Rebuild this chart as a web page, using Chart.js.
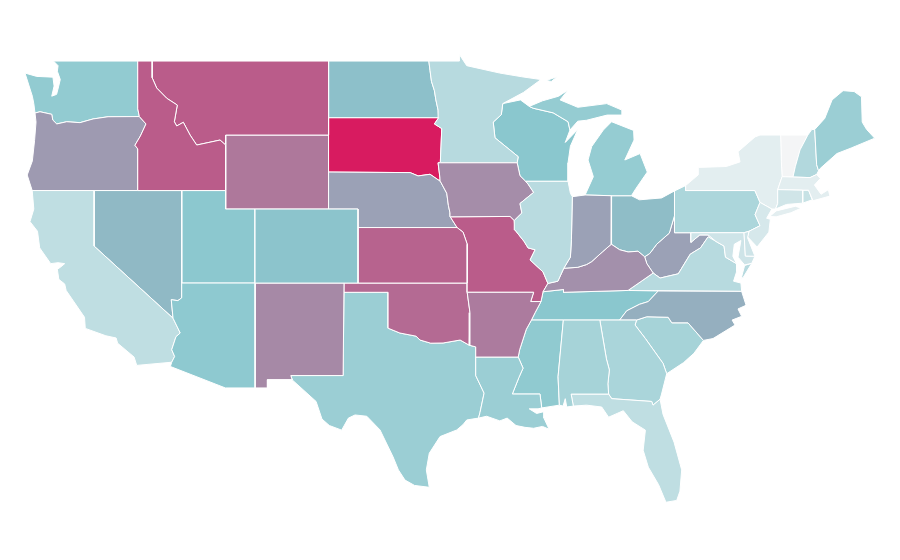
<!DOCTYPE html>
<html>
<head>
<meta charset="utf-8">
<title>US states</title>
<script src="https://cdn.jsdelivr.net/npm/chart.js@4"></script>
<style>
  html, body { margin: 0; background: #fff; }
  canvas { display: block; }
</style>
</head>
<body>
<canvas id="map" width="900" height="560"></canvas>
<script>
const stateNames = ['Alabama','Arizona','Arkansas','California','Colorado','Connecticut','Delaware','Florida','Georgia','Idaho','Illinois','Indiana','Iowa','Kansas','Kentucky','Louisiana','Maine','Maryland','Massachusetts','Michigan','Minnesota','Mississippi','Missouri','Montana','Nebraska','Nevada','New Hampshire','New Jersey','New Mexico','New York','North Carolina','North Dakota','Ohio','Oklahoma','Oregon','Pennsylvania','Rhode Island','South Carolina','South Dakota','Tennessee','Texas','Utah','Vermont','Virginia','Washington','West Virginia','Wisconsin','Wyoming'];
const stateValues = [37,48,72,25,51,17,18,25,35,81,28,61,67,79,66,42,42,18,8,45,29,47,81,81,61,54,31,14,68,8,57,52,53,77,63,34,21,37,100,50,42,49,0,29,46,61,50,73];

// shared borders, [lon, lat]
const rev = a => [...a].reverse();
const columbia = [[-116.92,46],[-119.05,45.99],[-120.07,45.87],[-120.96,45.67],[-121.86,45.72],[-122.54,45.6],[-122.81,45.81],[-122.88,46.12],[-123.68,46.26],[-124.02,46.19]];
const snake = [[-116.92,46],[-116.47,45.6],[-116.85,44.95],[-117.22,44.45],[-117.03,44.25]];
const idMt = [[-116.05,49],[-116.05,48.1],[-115.74,47.54],[-115.06,46.99],[-114.34,46.62],[-114.54,45.72],[-114.38,45.49],[-113.93,45.69],[-113.47,45],[-113.02,44.46],[-111.43,44.73],[-111.05,44.46]];
const nvAz = [[-114.04,36.2],[-114.3,36.05],[-114.75,36.1],[-114.63,35.1]];
const caAz = [[-114.63,35.1],[-114.14,34.3],[-114.43,34.1],[-114.72,33.4],[-114.52,33.03],[-114.72,32.72]];
const redNorth = [[-97.23,49],[-97.15,48.5],[-97.05,47.9],[-96.85,47.4],[-96.75,46.9],[-96.6,46.35],[-96.56,45.94]];
const mnSd = [[-96.56,45.94],[-96.85,45.6],[-96.35,45.35],[-96.45,43.5]];
const sdIa = [[-96.45,43.5],[-96.6,43.5],[-96.47,42.66],[-96.45,42.5]];
const missouri = [[-96.45,42.5],[-96.01,41.85],[-95.9,41.2],[-95.79,40.79],[-95.77,40.58],[-95.31,40]];
const kickapoo = [[-95.31,40],[-94.9,39.75],[-94.62,39.1]];
const redSouth = [[-100,34.56],[-99.2,34.3],[-98.1,34.13],[-97.83,33.92],[-97.1,33.75],[-96.26,33.76],[-95.1,33.92],[-94.48,33.64],[-94.04,33.55]];
const sabine = [[-94.04,32],[-93.47,31.05],[-93.75,30],[-93.85,29.7]];
const mnWi = [[-92.2,46.7],[-92.3,46.1],[-92.85,45.7],[-92.73,44.85],[-91.15,43.83],[-91.22,43.5]];
const wiIa = [[-91.22,43.5],[-91.03,42.8],[-90.65,42.5]];
const iaIl = [[-90.65,42.5],[-90.48,42.35],[-90.1,41.9],[-91.03,41.3],[-90.9,40.79],[-91.42,40.38]];
const moIl = [[-91.42,40.38],[-91.37,39.87],[-90.75,39.25],[-90.48,38.9],[-90,38.8],[-90.34,38.25],[-89.46,37.6],[-89.13,36.98]];
const moKy = [[-89.13,36.98],[-89.46,36.53]];
const moTn = [[-89.46,36.53],[-89.6,36]];
const arTn = [[-89.6,36],[-90,35.4],[-90.25,35]];
const arMs = [[-90.25,35],[-90.6,34.5],[-91.05,33.4],[-91.15,33]];
const laMs = [[-91.15,33],[-90.82,32.4],[-91.1,31.9],[-91.55,31],[-89.67,31],[-89.55,30.25]];
const ohioIl = [[-89.13,36.98],[-88.45,37.1],[-88.05,37.8]];
const ohioIn = [[-88.05,37.8],[-87.1,37.85],[-86.5,38],[-86.15,38.16],[-85.4,38.7],[-84.82,39.1]];
const ohioOh = [[-84.82,39.1],[-84.25,38.8],[-83.67,38.68],[-83,38.72],[-82.55,38.42]];
const ohioWv = [[-82.55,38.42],[-82.2,38.6],[-81.73,39.1],[-80.87,39.7],[-80.52,40.64]];
const kyWv = [[-82.55,38.42],[-82.4,38.05],[-81.97,37.54]];
const tnNc = [[-84.25,35],[-83.77,35.5],[-82.9,35.85],[-82.3,36],[-81.63,36.57]];
const gaSc = [[-83.1,35],[-83.2,34.73],[-82.5,34],[-81.3,32.66],[-81.05,32.1]];
const ncSc = [[-83.1,35],[-82.4,35.18],[-80.95,35.15],[-80.7,34.85],[-79.6,34.85],[-78.55,33.9]];
const vaWv = [[-81.97,37.54],[-81.5,37.27],[-80.26,37.5],[-79.45,38.56],[-78.75,38.9],[-78.23,39.5],[-77.7,39.25]];
const mdVa = [[-77.7,39.25],[-77.15,39],[-77.05,38.4],[-76.3,38.05]];
const wvMd = [[-79.4,39.72],[-79.4,39.2],[-78.8,39.6],[-78.23,39.6],[-77.7,39.25]];
const wiMi = [[-90.4,46.55],[-90.13,46.45],[-88.77,46.2],[-87.76,45.72],[-87.63,45.27]];

const stateShapes = {
  'Washington': [[[-122.76,49],[-117.03,49],[-117.03,46.42],...columbia,[-124.1,46.7],[-124.2,47.1],[-124.7,48.35],[-123.9,48.17],[-122.8,48.13],[-122.72,47.65],[-122.88,47.1],[-122.55,47.2],[-122.42,47.6],[-122.3,48],[-122.5,48.45],[-122.45,48.75]]],
  'Oregon': [[...rev(columbia),...snake,[-117.03,42],[-124.21,42],[-124.55,42.84],[-124.2,43.6],[-124.05,44.7],[-123.95,45.7]]],
  'California': [[[-124.21,42],[-120,42],[-120,39],...caAz,[-117.1,32.55],[-117.28,33],[-118.4,33.75],[-118.5,34.03],[-119.2,34.15],[-120.6,34.55],[-120.65,35.15],[-121.9,36.6],[-122,36.95],[-122.4,37.2],[-122.5,37.75],[-122.3,37.85],[-122,38.05],[-122.45,38.1],[-122.95,38.05],[-123.7,38.9],[-123.85,39.8],[-124.36,40.32],[-124.1,41]]],
  'Nevada': [[[-120,42],[-114.04,42],...nvAz,[-120,39]]],
  'Idaho': [[[-117.03,49],...idMt,[-111.05,42],[-117.03,42],...rev(snake),[-117.03,46.42]]],
  'Montana': [[[-116.05,49],[-104.05,49],[-104.05,45],[-111.05,45],...rev(idMt)]],
  'Wyoming': [[[-111.05,45],[-104.05,45],[-104.05,41],[-111.05,41]]],
  'Utah': [[[-114.04,42],[-111.05,42],[-111.05,41],[-109.05,41],[-109.05,37],[-114.04,37]]],
  'Arizona': [[[-114.04,37],[-109.05,37],[-109.05,31.33],[-111.07,31.33],[-114.81,32.49],...rev(caAz),...rev(nvAz)]],
  'Colorado': [[[-109.05,41],[-102.05,41],[-102.05,37],[-109.05,37]]],
  'New Mexico': [[[-109.05,37],[-103,37],[-103.06,32],[-106.62,32],[-106.53,31.78],[-108.21,31.78],[-108.21,31.33],[-109.05,31.33]]],
  'North Dakota': [[[-104.05,49],...redNorth,[-104.05,45.94]]],
  'South Dakota': [[[-104.05,45.94],...mnSd,...sdIa,[-97.15,42.88],[-97.96,42.79],[-98.5,42.97],[-104.05,43]]],
  'Nebraska': [[[-104.05,43],[-98.5,42.97],[-97.96,42.79],[-97.15,42.88],...missouri,[-102.05,40],[-102.05,41],[-104.05,41]]],
  'Kansas': [[[-102.05,40],...kickapoo,[-94.62,37],[-102.05,37]]],
  'Oklahoma': [[[-103,37],[-94.62,37],[-94.62,36.5],[-94.43,35.4],...rev(redSouth).slice(1),[-100,36.5],[-103,36.5]]],
  'Texas': [[[-103,36.5],[-100,36.5],...redSouth,[-94.04,32],...sabine.slice(1),[-94.65,29.6],[-94.9,29.35],[-95.33,29.06],[-96.47,28.7],[-97.2,27.8],[-97.4,26.9],[-97.2,25.96],[-98.2,26.06],[-98.85,26.35],[-99.3,26.9],[-99.66,27.6],[-100.55,29.06],[-101.45,29.8],[-102.25,29.87],[-102.7,29.7],[-103.16,29.05],[-104,29.3],[-104.5,29.65],[-104.9,30.6],[-106.5,31.75],[-106.62,32],[-103.06,32]]],
  'Minnesota': [[[-97.23,49],[-95.15,49],[-95.15,49.35],[-94.65,48.75],[-92.4,48.35],[-90.9,48.15],[-89.6,48],[-90.8,47.3],...mnWi,[-96.45,43.5],...rev(mnSd),...rev(redNorth).slice(1,-1)]],
  'Iowa': [[[-96.45,43.5],[-91.22,43.5],[-91.03,42.8],...iaIl,[-91.7,40.6],[-95.77,40.58],[-95.79,40.79],[-95.9,41.2],[-96.01,41.85],...rev(sdIa).slice(0,-1)]],
  'Missouri': [[[-95.77,40.58],[-91.7,40.6],...moIl,...moKy,...moTn,[-90.3,36],[-90.1,36.5],[-94.62,36.5],[-94.62,39.1],[-94.9,39.75],[-95.31,40]]],
  'Arkansas': [[[-94.62,36.5],[-90.1,36.5],[-90.3,36],...arTn,...arMs,[-94.04,33],[-94.04,33.55],[-94.48,33.64],[-94.43,35.4]]],
  'Louisiana': [[[-94.04,33],...laMs,[-89.8,30.2],[-90.4,30.2],[-89.9,29.95],[-89.4,30.05],[-89.4,29.7],[-89.05,29.1],[-89.5,29.25],[-90.1,29.15],[-90.69,29.2],[-91.3,29.3],[-91.9,29.7],[-92.4,29.55],[-93.3,29.8],...rev(sabine)]],
  'Wisconsin': [[[-92.2,46.7],[-91,46.9],...wiMi,[-87.95,44.6],[-87.1,45.3],[-87.6,44.4],[-87.76,43.5],[-87.76,42.5],...rev(wiIa),...rev(mnWi).slice(1,-1)]],
  'Illinois': [[[-90.65,42.5],[-87.76,42.5],[-87.6,41.85],[-87.47,41.67],[-87.53,39.35],[-87.6,38.4],...rev(ohioIl),...rev(moIl),...rev(iaIl).slice(1,-1)]],
  'Indiana': [[[-87.47,41.67],[-86.6,41.76],[-84.8,41.72],...rev(ohioIn),[-87.6,38.4],[-87.53,39.35]]],
  'Michigan': [
    [[-86.6,41.76],[-84.8,41.72],[-83.45,41.72],[-83.15,42.1],[-82.37,43],[-82.86,44],[-83.9,43.65],[-83.27,44.73],[-83.3,45.25],[-84.8,45.72],[-85.36,45.27],[-86.15,44.38],[-86.4,43.65],[-86.04,42.75]],
    [...wiMi,[-87.1,45.75],[-86.5,45.8],[-85.1,46.08],[-84.1,46.08],[-84.1,46.35],[-85.13,46.7],[-87.1,46.5],[-88.3,46.9],[-87.76,47.44],[-88.4,47.1],[-89.5,46.85]],
    [[-89.25,47.95],[-88.5,48.15],[-88.9,47.9]]
  ],
  'Ohio': [[[-84.8,41.72],[-83.45,41.72],[-82.9,41.5],[-81.4,41.6],[-80.52,41.98],...rev(ohioWv),...rev(ohioOh)]],
  'Kentucky': [[...moKy,[-88.07,36.65],[-88.07,36.5],[-83.68,36.6],[-81.97,37.54],...rev(kyWv),...rev(ohioOh),...rev(ohioIn),...rev(ohioIl)]],
  'Tennessee': [[[-90.25,35],[-84.25,35],...tnNc,[-83.68,36.6],[-88.07,36.5],[-88.07,36.65],[-89.46,36.53],...moTn,...arTn.slice(1)]],
  'Mississippi': [[[-90.25,35],[-88.08,35],[-88.44,31.93],[-88.35,30.4],[-89.55,30.25],...rev(laMs).slice(1),...rev(arMs).slice(1)]],
  'Alabama': [[[-88.08,35],[-85.6,35],[-85.15,32.9],[-84.95,32.3],[-85.05,31.55],[-85,31],[-87.55,31],[-87.4,30.35],[-87.85,30.3],[-87.95,30.75],[-88.1,30.35],[-88.35,30.4],[-88.44,31.93]]],
  'Georgia': [[[-85.6,35],[-83.1,35],...gaSc.slice(1),[-81.4,31],[-81.5,30.72],[-81.98,30.4],[-82.07,30.6],[-84.79,30.75],[-85,31],[-85.05,31.55],[-84.95,32.3],[-85.15,32.9]]],
  'South Carolina': [[...ncSc,[-79.2,33.2],[-79.9,32.7],[-81.05,32.1],...rev(gaSc).slice(1,-1)]],
  'North Carolina': [[...tnNc,[-75.95,36.55],[-75.65,35.8],[-76.2,35.6],[-75.95,35.2],[-76.6,35],[-76.4,34.73],[-77.9,34],...rev(ncSc)]],
  'Florida': [[[-87.55,31],[-85,31],[-84.79,30.75],[-82.07,30.6],[-81.98,30.4],[-81.5,30.72],[-81.3,29.9],[-80.55,28.4],[-80.03,26.9],[-80.15,25.75],[-80.37,25.25],[-81.1,25.15],[-81.6,26.1],[-82.3,27.05],[-82.65,27.96],[-82.5,29.05],[-83.4,29.5],[-84,30.1],[-85,29.75],[-85.47,30.3],[-86.5,30.4],[-87.4,30.35]]],
  'Virginia': [
    [[-83.68,36.6],[-75.95,36.55],[-76,37],[-76.5,37.1],[-76.3,37.6],...rev(mdVa),...rev(vaWv)],
    [[-75.98,37.25],[-75.75,37.95],[-75.26,38.07],[-75.85,37.3]]
  ],
  'West Virginia': [[...ohioWv,[-80.52,39.72],...wvMd,...rev(vaWv),[-82.4,38.05]]],
  'Maryland': [[[-79.4,39.72],[-75.79,39.72],[-75.7,38.46],[-75.05,38.45],[-75.26,38.07],[-75.75,37.98],[-76.2,38.4],[-76,39.3],[-76.45,39.1],[-76.55,38.45],...rev(mdVa),...rev(wvMd).slice(1)]],
  'Delaware': [[[-75.79,39.72],[-75.45,39.8],[-75.55,39.45],[-75.05,38.45],[-75.7,38.46]]],
  'Pennsylvania': [[[-80.52,41.98],[-79.76,42.27],[-79.76,42],[-75.05,42],[-74.7,41.36],[-75.04,40.7],[-74.7,40.1],[-75.45,39.8],[-75.79,39.72],[-80.52,39.72]]],
  'New Jersey': [[[-74.7,41.36],[-73.9,41],[-74.25,40.5],[-74,40.45],[-74.1,39.75],[-74.9,38.95],[-75.55,39.5],[-75.45,39.8],[-74.7,40.1],[-75.04,40.7]]],
  'New York': [
    [[-79.76,42.27],[-78.9,42.85],[-78.9,43.25],[-77,43.3],[-76.06,43.55],[-76.2,44.1],[-75.04,44.9],[-74.7,45],[-73.3,45],[-73.25,43.55],[-73.2,42.75],[-73.5,42.05],[-73.5,41.3],[-73.65,41],[-73.9,41],[-74.7,41.36],[-75.05,42],[-79.76,42]],
    [[-74.05,40.6],[-73.6,40.9],[-72.3,41.15],[-71.9,41.05],[-72.6,40.8],[-73.6,40.58]]
  ],
  'Vermont': [[[-73.3,45],[-71.45,45],[-71.98,44.2],[-72.3,43.3],[-72.46,42.73],[-73.2,42.75],[-73.25,43.55]]],
  'New Hampshire': [[[-71.45,45],[-71.18,45.3],[-70.98,45.3],[-70.85,43.4],[-70.72,43.07],[-70.85,42.87],[-71.3,42.7],[-72.46,42.73],[-72.3,43.3],[-71.98,44.2]]],
  'Maine': [[[-70.98,45.3],[-70.3,45.9],[-69.8,46.9],[-69.05,47.4],[-68.3,47.35],[-67.8,47.07],[-67.75,45.7],[-67.45,45.3],[-66.9,44.83],[-68.5,44.3],[-69.47,44],[-70.6,43.2],[-70.72,43.07],[-70.85,43.4]]],
  'Massachusetts': [[[-73.5,42.05],[-73.2,42.75],[-72.46,42.73],[-71.3,42.7],[-70.85,42.87],[-70.6,42.65],[-71,42.3],[-70.55,41.8],[-70.05,42.05],[-69.95,41.7],[-71.1,41.45],[-71.4,42.02],[-71.8,42.02]]],
  'Connecticut': [[[-73.5,42.05],[-71.8,42.02],[-71.8,41.32],[-72.9,41.25],[-73.65,41],[-73.5,41.3]]],
  'Rhode Island': [[[-71.8,42.02],[-71.4,42.02],[-71.15,41.5],[-71.8,41.32]]]
};

// light grey -> teal -> crimson
const low = [244,245,246], mid = [138,199,206], high = [216,27,96];
function shade(v) {
  const [a, b, t] = v < 50 ? [low, mid, v / 50] : [mid, high, (v - 50) / 50];
  return `rgb(${a.map((c, i) => Math.round(c + (b[i] - c) * t)).join(',')})`;
}

const datasets = [];
stateNames.forEach((name, i) => {
  stateShapes[name].forEach(part => {
    const closed = [...part, part[0]];
    datasets.push({
      label: name,
      data: closed.map(p => ({ x: p[0], y: p[1] })),
      showLine: true,
      fill: 'shape',
      backgroundColor: shade(stateValues[i]),
      borderColor: '#fff',
      borderWidth: 1,
      pointRadius: 0,
      tension: 0
    });
  });
});

new Chart(document.getElementById('map'), {
  type: 'scatter',
  data: { datasets },
  options: {
    responsive: false,
    animation: false,
    layout: { padding: 0 },
    plugins: { legend: { display: false }, tooltip: { enabled: false } },
    scales: {
      x: { type: 'linear', min: -126.4, max: -65.18, display: false },
      y: { type: 'linear', min: 22.03, max: 52.3, display: false }
    }
  }
});
</script>
</body>
</html>
